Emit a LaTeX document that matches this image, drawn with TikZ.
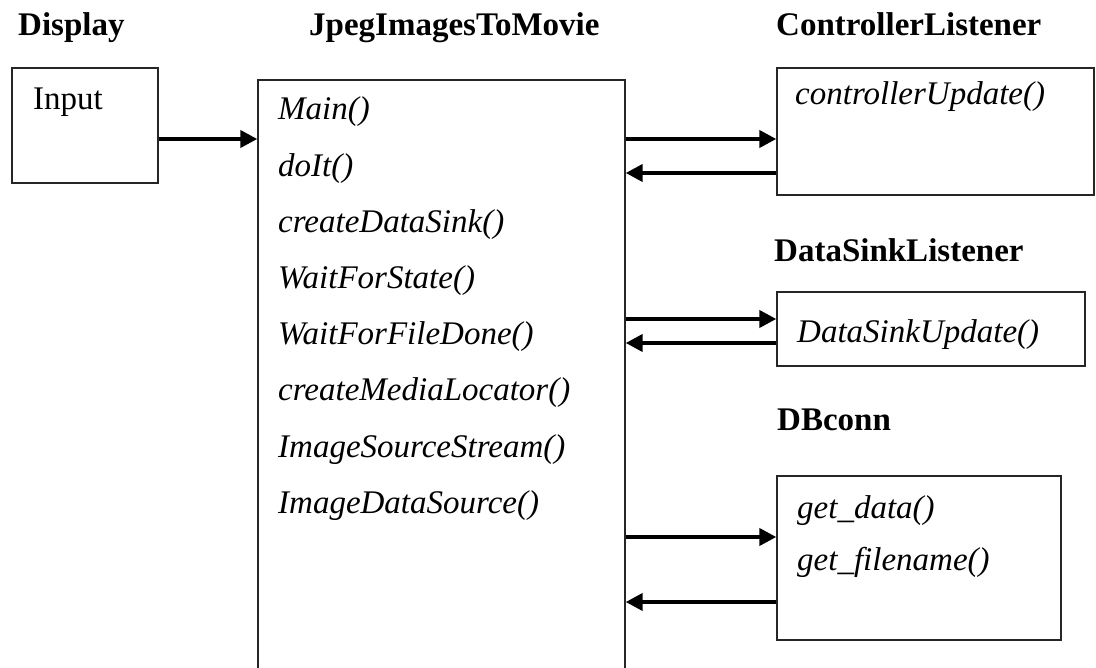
\documentclass[tikz,border=0pt]{standalone}
\usepackage{fontspec}
\setmainfont{Liberation Serif}
\usetikzlibrary{arrows.meta}
\begin{document}
\begin{tikzpicture}[x=1pt,y=-1pt,
  box/.style={draw=black!85, line width=1.4pt, rectangle, inner sep=0pt},
  lbl/.style={anchor=base west, inner sep=0pt, font=\fontsize{33}{40}\selectfont\bfseries},
  txt/.style={anchor=base west, inner sep=0pt, font=\fontsize{33}{40}\selectfont},
  mtd/.style={anchor=base west, inner sep=0pt, font=\fontsize{33}{40}\selectfont\itshape},
  arr/.style={line width=4pt, -{Triangle[length=17pt,width=17pt]}}]
\useasboundingbox (0,0) rectangle (1096,668);
\clip (0,0) rectangle (1096,668);
% headings
\node[lbl] (hdisp) at (18,36) {Display};
\node[lbl] (hjpeg) at (309,36) {JpegImagesToMovie};
\node[lbl] (hctrl) at (776,36) {ControllerListener};
\node[lbl] (hsink) at (774,262) {DataSinkListener};
\node[lbl] (hdb) at (777,431) {DBconn};
% boxes
\node[box, minimum width=146pt, minimum height=115pt] (input) at (85,125.5) {};
\node[box, minimum width=367pt, minimum height=640pt] (main) at (441.5,400) {};
\node[box, minimum width=317pt, minimum height=127pt] (ctrl) at (935.5,131.5) {};
\node[box, minimum width=308pt, minimum height=74pt] (sink) at (931,329) {};
\node[box, minimum width=284pt, minimum height=164pt] (db) at (919,558) {};
% texts
\node[txt] (tin) at (33,110) {Input};
\foreach \t [count=\i from 0] in {Main(),doIt(),createDataSink(),WaitForState(),WaitForFileDone(),createMediaLocator(),ImageSourceStream(),ImageDataSource()}
  \node[mtd] (m\i) at (278,120+56.2*\i) {\t};
\node[mtd] (tcu) at (795,105) {controllerUpdate()};
\node[mtd] (tsu) at (797,343) {DataSinkUpdate()};
\node[mtd] (tgd) at (797,518) {get\_data()};
\node[mtd] (tgf) at (797,570) {get\_filename()};
% connectors
\draw[arr] (input.east |- 0,139) -- (main.west |- 0,139);
\draw[arr] (main.east |- 0,139) -- (ctrl.west |- 0,139);
\draw[arr] (ctrl.west |- 0,173) -- (main.east |- 0,173);
\draw[arr] (main.east |- 0,319) -- (sink.west |- 0,319);
\draw[arr] (sink.west |- 0,343) -- (main.east |- 0,343);
\draw[arr] (main.east |- 0,537) -- (db.west |- 0,537);
\draw[arr] (db.west |- 0,602) -- (main.east |- 0,602);
\end{tikzpicture}
\end{document}
